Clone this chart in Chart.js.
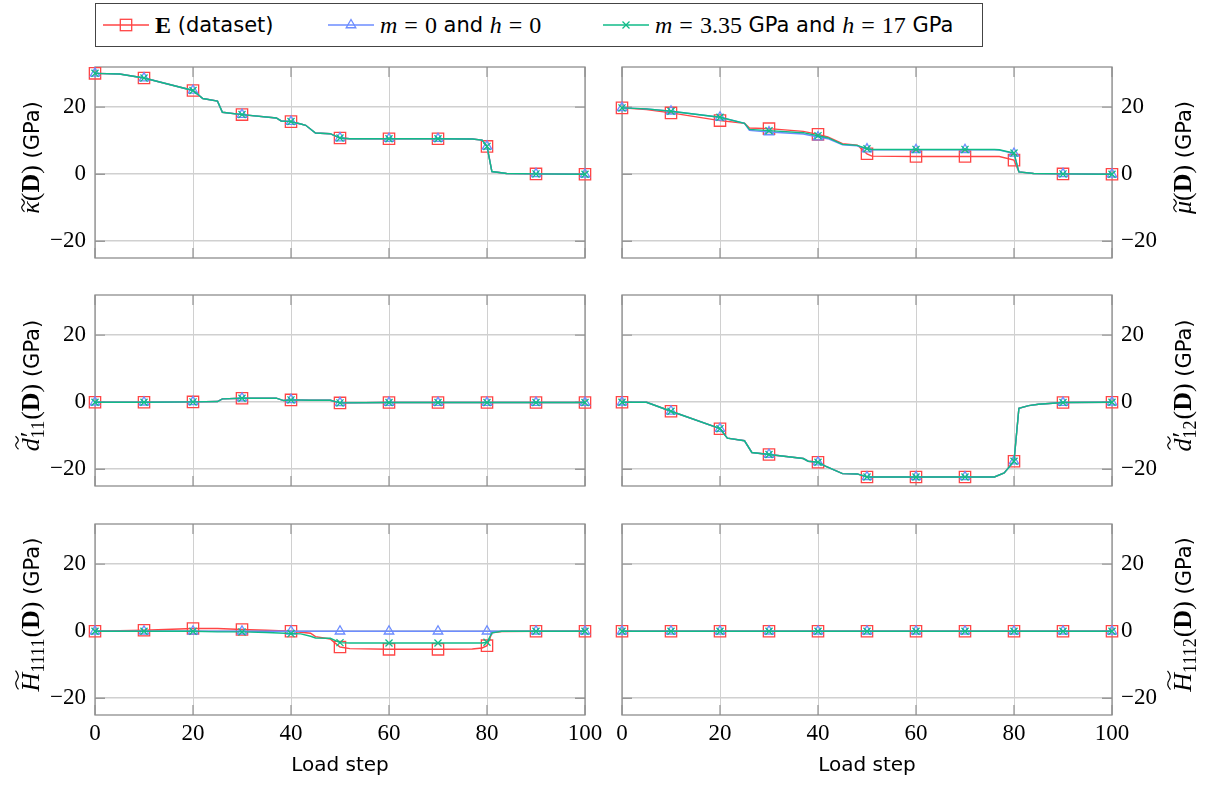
<!DOCTYPE html>
<html><head><meta charset="utf-8">
<script src="https://cdn.jsdelivr.net/npm/chart.js@4.4.1/dist/chart.umd.min.js"></script>
<style>
html,body{margin:0;padding:0;background:#fff;width:1208px;height:785px;overflow:hidden;position:relative}
canvas.ch{position:absolute}
#legend{position:absolute;left:95px;top:3px;width:888px;height:44px;border:1.3px solid #444;box-sizing:border-box}
.ent{position:absolute;top:0;height:42px;display:flex;align-items:center;white-space:nowrap}
.ent svg{margin-right:6px}
.serif{font-family:'Liberation Serif',serif;font-size:24px}
.it{font-style:italic}
.bf{font-weight:bold}
.eq{margin:0 7px}
.sans{font-family:'DejaVu Sans',sans-serif;font-size:21px}
</style></head>
<body>
<div id="legend">
  <div class="ent" style="left:7px">
    <svg width="46" height="20"><line x1="0" y1="10" x2="46" y2="10" stroke="#ff4545" stroke-width="1.3"/><rect x="17.3" y="4.3" width="11.4" height="11.4" fill="none" stroke="#ff4545" stroke-width="1.3"/></svg>
    <span class="serif bf">E</span><span class="sans">&nbsp;(dataset)</span>
  </div>
  <div class="ent" style="left:232px">
    <svg width="46" height="20"><line x1="0" y1="10" x2="46" y2="10" stroke="#6c8cff" stroke-width="1.3"/><polygon points="23,4.5 27.8,12.75 18.2,12.75" fill="none" stroke="#6c8cff" stroke-width="1.3"/></svg>
    <span class="serif it">m</span><span class="serif eq">=</span><span class="serif">0</span><span class="sans">&nbsp;and&nbsp;</span><span class="serif it">h</span><span class="serif eq">=</span><span class="serif">0</span>
  </div>
  <div class="ent" style="left:507px">
    <svg width="46" height="20"><line x1="0" y1="10" x2="46" y2="10" stroke="#10bb88" stroke-width="1.3"/><line x1="19.5" y1="6.5" x2="26.5" y2="13.5" stroke="#10bb88" stroke-width="1.3"/><line x1="19.5" y1="13.5" x2="26.5" y2="6.5" stroke="#10bb88" stroke-width="1.3"/></svg>
    <span class="serif it">m</span><span class="serif eq">=</span><span class="serif">3.35</span><span class="sans">&nbsp;GPa and&nbsp;</span><span class="serif it">h</span><span class="serif eq">=</span><span class="serif">17</span><span class="sans">&nbsp;GPa</span>
  </div>
</div>
<canvas id="c0" class="ch"></canvas>
<canvas id="c1" class="ch"></canvas>
<canvas id="c2" class="ch"></canvas>
<canvas id="c3" class="ch"></canvas>
<canvas id="c4" class="ch"></canvas>
<canvas id="c5" class="ch"></canvas>
<script>
// ---------------- data ----------------
const xTicks = [0, 20, 40, 60, 80, 100];
const yTicks = [-20, 0, 20];

// kappa
const kappaX = [0,5,10,20,22,25,26,30,37,38,40,42,43,45,48,50,52,60,70,77,79,80,81,84,90,100];
const kappaE = [30.1,29.9,28.7,25.0,22.6,21.8,18.5,17.8,16.8,15.9,15.7,15.0,14.6,12.3,12.1,10.8,10.6,10.6,10.6,10.5,10.2,8.3,0.8,0.2,0.1,0];
const kappaM0 = [30.1,29.9,28.7,25.0,22.6,21.8,18.5,17.8,16.8,15.9,15.7,15.0,14.6,12.3,12.1,10.8,10.6,10.6,10.6,10.5,10.2,8.3,0.8,0.2,0.1,0];
const kappaM335 = [30.1,29.9,28.7,25.0,22.6,21.8,18.5,17.8,16.8,15.9,15.7,15.0,14.6,12.3,12.1,10.8,10.6,10.6,10.6,10.5,10.2,8.3,0.8,0.2,0.1,0];

// mu
const muX = [0,5,10,20,25,26,30,37,40,42,45,48,50,51,60,70,76,77,80,81,84,90,100];
const muE = [19.8,19.3,18.3,16.0,15.2,13.8,13.6,12.8,11.9,11.1,9.1,8.7,6.1,5.4,5.3,5.3,5.3,5.3,4.2,0.7,0.2,0.1,0];
const muM0 = [19.8,19.5,18.8,17.0,15.2,13.1,12.6,12.0,11.1,10.6,8.8,8.5,7.5,7.3,7.3,7.3,7.3,7.2,6.2,0.7,0.2,0.1,0];
const muM335 = [19.8,19.5,18.8,17.0,15.2,13.4,13.0,12.4,11.5,10.9,8.9,8.6,7.6,7.4,7.4,7.4,7.4,7.3,6.3,0.7,0.2,0.1,0];

// d'11
const d11X = [0,10,20,25,26,30,37,38.5,40,44,48,50,60,70,80,90,100];
const d11E = [0,0,0.1,0.2,1.0,1.2,1.2,0.5,0.7,0.6,0.6,-0.2,-0.1,-0.1,-0.1,-0.1,-0.1];
const d11M0 = [0,0,0.1,0.2,1.0,1.2,1.2,0.5,0.7,0.6,0.6,-0.2,-0.1,-0.1,-0.1,-0.1,-0.1];
const d11M335 = [0,0,0.1,0.2,1.0,1.2,1.2,0.5,0.7,0.6,0.6,-0.2,-0.1,-0.1,-0.1,-0.1,-0.1];

// d'12
const d12X = [0,5,10,20,21.5,25,26.5,30,37,38,40,41.5,45,48,50,60,70,76,78,80,81,83,85,90,100];
const d12E = [0,0,-2.7,-7.9,-10.7,-11.5,-15.0,-15.6,-16.8,-17.6,-17.9,-19.1,-21.3,-21.4,-22.3,-22.3,-22.3,-22.3,-21.1,-17.6,-1.8,-1.0,-0.6,-0.1,0];
const d12M0 = [0,0,-2.7,-7.9,-10.7,-11.5,-15.0,-15.6,-16.8,-17.6,-17.9,-19.1,-21.3,-21.4,-22.3,-22.3,-22.3,-22.3,-21.1,-17.6,-1.8,-1.0,-0.6,-0.1,0];
const d12M335 = [0,0,-2.7,-7.9,-10.7,-11.5,-15.0,-15.6,-16.8,-17.6,-17.9,-19.1,-21.3,-21.4,-22.3,-22.3,-22.3,-22.3,-21.1,-17.6,-1.8,-1.0,-0.6,-0.1,0];

// H1111
const h1111X = [0,10,20,25,30,35,40,42,44,45,48,50,52,60,70,77,79,80,81,83,90,100];
const h1111E = [0,0.3,0.8,0.8,0.5,0.3,0,-0.3,-0.6,-1.6,-2.3,-4.7,-5.2,-5.4,-5.4,-5.3,-5.0,-4.3,-0.5,-0.1,0,0];
const h1111M0 = [0,0,0,0,0,0,0,0,0,0,0,0,0,0,0,0,0,0,0,0,0,0];
const h1111M335 = [0,0,0,-0.2,-0.2,-0.4,-0.7,-0.8,-1.5,-2.0,-2.1,-3.4,-3.5,-3.5,-3.5,-3.5,-3.5,-3.3,-0.5,0,0,0];

// H1112
const h1112X = [0,10,20,30,40,50,60,70,80,90,100];
const h1112E = [0,0,0,0,0,0,0,0,0,0,0];
const h1112M0 = [0,0,0,0,0,0,0,0,0,0,0];
const h1112M335 = [0,0,0,0,0,0,0,0,0,0,0];

// ---------------- styling ----------------
const RED = '#ff4545', BLUE = '#6c8cff', GREEN = '#10bb88';
const SERIF = "'Liberation Serif', serif";
const SANS = "'DejaVu Sans', sans-serif";
const BORDERC = '#8e8e8e', TICKC = '#9a9a9a', GRIDC = '#d0d0d0';
const TL = 10;

const COLS = [{canvasLeft:0, width:603, padL:0, padR:18, yW:95, pos:'left', titleX:30},
              {canvasLeft:604, width:604, padL:18, padR:0, yW:96, pos:'right', titleX:1182-604}];
const ROWS = [{canvasTop:52, padT:15, areaH:191, xH:0, padB:12},
              {canvasTop:280, padT:15, areaH:191, xH:0, padB:12},
              {canvasTop:509, padT:15, areaH:191, xH:70, padB:0}];

const SUBF = "18px " + SERIF;
const MF = '26px ' + SERIF, MI = 'italic 26px ' + SERIF, MB = 'bold 26px ' + SERIF, UF = '21px ' + SANS;
function mkTitle(first) {
  return [first, {t:'(', f:MF}, {t:'D', f:MB}, {t:')', f:MF}, {t:' (GPa)', f:UF}];
}
const titles = [
  mkTitle({t:'κ', f:MI, tilde:1}),
  mkTitle({t:'μ', f:MI, tilde:1}),
  mkTitle({t:'d', f:MI, tilde:2, sup:'′', sub:'11'}),
  mkTitle({t:'d', f:MI, tilde:2, sup:'′', sub:'12'}),
  mkTitle({t:'H', f:MI, tilde:2, sub:'1111'}),
  mkTitle({t:'H', f:MI, tilde:2, sub:'1112'})
];

function drawRich(ctx, segs, cx, cy) {
  ctx.save();
  ctx.translate(cx, cy);
  ctx.rotate(-Math.PI / 2);
  let w = 0;
  const items = segs.map(s => {
    ctx.font = s.f;
    const mw = ctx.measureText(s.t).width;
    let ew = 0;
    ctx.font = SUBF;
    if (s.sub) ew = Math.max(ew, ctx.measureText(s.sub).width + 1);
    ctx.font = MF;
    if (s.sup) ew = Math.max(ew, ctx.measureText(s.sup).width + 2);
    const it = {s, x: w, mw};
    w += mw + ew;
    return it;
  });
  const x0 = -w / 2, base = 9;
  ctx.fillStyle = '#000'; ctx.strokeStyle = '#000';
  ctx.textAlign = 'left'; ctx.textBaseline = 'alphabetic';
  items.forEach(it => {
    const s = it.s, xx = x0 + it.x;
    ctx.font = s.f;
    ctx.fillText(s.t, xx, base);
    if (s.sup) { ctx.font = MF; ctx.fillText(s.sup, xx + it.mw + 1, base - 1); }
    if (s.sub) { ctx.font = SUBF; ctx.fillText(s.sub, xx + it.mw, base + 5); }
    if (s.tilde) {
      const ty = base - (s.tilde === 1 ? 16 : 22);
      const a = xx + 2, ww = Math.max(it.mw, 13);
      ctx.lineWidth = 1.2;
      ctx.beginPath();
      ctx.moveTo(a, ty + 1.5);
      ctx.bezierCurveTo(a + ww * 0.25, ty - 2.5, a + ww * 0.4, ty - 1.5, a + ww * 0.5, ty);
      ctx.bezierCurveTo(a + ww * 0.6, ty + 1.5, a + ww * 0.75, ty + 2.5, a + ww, ty - 1.5);
      ctx.stroke();
    }
  });
  ctx.restore();
}

function mkData(xs, ys) { return xs.map((x, i) => ({x: x, y: ys[i]})); }
function markR(r) { return c => (c.raw && c.raw.x % 10 === 0) ? r : 0; }
const fmt = v => v < 0 ? '\u2212' + Math.abs(v) : String(v);

const panels = [
  {xs: kappaX, e: kappaE, m0: kappaM0, m3: kappaM335},
  {xs: muX, e: muE, m0: muM0, m3: muM335},
  {xs: d11X, e: d11E, m0: d11M0, m3: d11M335},
  {xs: d12X, e: d12E, m0: d12M0, m3: d12M335},
  {xs: h1111X, e: h1111E, m0: h1111M0, m3: h1111M335},
  {xs: h1112X, e: h1112E, m0: h1112M0, m3: h1112M335}
];

panels.forEach((p, i) => {
  const col = COLS[i % 2], row = ROWS[Math.floor(i / 2)], rIdx = Math.floor(i / 2);
  const cv = document.getElementById('c' + i);
  const H = row.padT + row.areaH + row.xH + row.padB;
  cv.width = col.width; cv.height = H;
  cv.style.left = col.canvasLeft + 'px'; cv.style.top = row.canvasTop + 'px';
  cv.style.width = col.width + 'px'; cv.style.height = H + 'px';

  const frame = {
    id: 'frame' + i,
    beforeDatasetsDraw(chart) {
      const {ctx, chartArea: {left, right, top, bottom}, scales: {x, y}} = chart;
      ctx.save();
      ctx.strokeStyle = TICKC; ctx.lineWidth = 1.3;
      ctx.beginPath();
      xTicks.forEach(v => { const px = x.getPixelForValue(v); ctx.moveTo(px, top); ctx.lineTo(px, top + TL); ctx.moveTo(px, bottom); ctx.lineTo(px, bottom - TL); });
      yTicks.forEach(v => { const py = y.getPixelForValue(v); ctx.moveTo(left, py); ctx.lineTo(left + TL, py); ctx.moveTo(right, py); ctx.lineTo(right - TL, py); });
      ctx.stroke();
      ctx.strokeStyle = BORDERC; ctx.lineWidth = 1.3;
      ctx.strokeRect(left, top, right - left, bottom - top);
      ctx.restore();
    },
    afterDraw(chart) {
      const {ctx, chartArea: {top, bottom}} = chart;
      drawRich(ctx, titles[i], col.titleX, (top + bottom) / 2 - 5);
    }
  };

  const base = {type: 'line', fill: false, tension: 0, borderWidth: 1.4, pointBorderWidth: 1.3,
                pointBackgroundColor: 'rgba(0,0,0,0)', clip: false, pointHoverRadius: 0};
  new Chart(cv, {
    type: 'line',
    data: {datasets: [
      Object.assign({}, base, {label: 'E (dataset)', data: mkData(p.xs, p.e), borderColor: RED, pointBorderColor: RED, pointStyle: 'rect', pointRadius: markR(8), order: 3}),
      Object.assign({}, base, {label: 'm = 0 and h = 0', data: mkData(p.xs, p.m0), borderColor: BLUE, pointBorderColor: BLUE, pointStyle: 'triangle', pointRadius: markR(5.5), order: 2}),
      Object.assign({}, base, {label: 'm = 3.35 GPa and h = 17 GPa', data: mkData(p.xs, p.m3), borderColor: GREEN, pointBorderColor: GREEN, pointStyle: 'crossRot', pointRadius: markR(5), order: 1})
    ]},
    options: {
      responsive: false, animation: false, devicePixelRatio: 1, events: [],
      layout: {padding: {left: col.padL, right: col.padR, top: row.padT, bottom: row.padB}},
      plugins: {legend: {display: false}, tooltip: {enabled: false}},
      scales: {
        x: {type: 'linear', min: 0, max: 100,
            afterBuildTicks: s => { s.ticks = xTicks.map(v => ({value: v})); },
            afterFit: s => { s.height = row.xH; s.paddingLeft = 0; s.paddingRight = 0; },
            grid: {color: GRIDC, lineWidth: 1, drawTicks: false},
            border: {display: false},
            ticks: {display: rIdx === 2, padding: 5, maxRotation: 0, autoSkip: false, color: '#000',
                    font: {family: SERIF, size: 23}, callback: fmt},
            title: {display: rIdx === 2, text: 'Load step', color: '#000', font: {family: SANS, size: 20}, padding: {top: 0, bottom: 7}}
        },
        y: {type: 'linear', position: col.pos, min: -25, max: 32,
            afterBuildTicks: s => { s.ticks = yTicks.map(v => ({value: v})); },
            afterFit: s => { s.width = col.yW; s.paddingTop = 0; s.paddingBottom = 0; },
            grid: {color: GRIDC, lineWidth: 1.5, drawTicks: false},
            border: {display: false},
            ticks: {padding: 9, color: '#000', font: {family: SERIF, size: 23}, callback: fmt}
        }
      }
    },
    plugins: [frame]
  });
});
</script>
</body></html>
